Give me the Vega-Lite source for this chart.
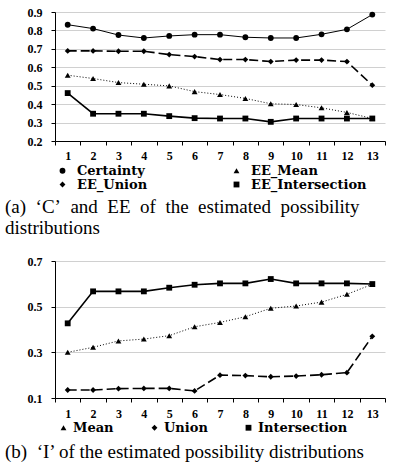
{
  "$schema": "https://vega.github.io/schema/vega-lite/v6.json",
  "padding": {"left": 5, "top": 6, "right": 5, "bottom": 0},
  "spacing": 17,
  "resolve": {"scale": {"shape": "independent", "y": "independent"}, "legend": {"shape": "independent"}},
  "config": {
    "font": "Liberation Serif",
    "view": {"stroke": null},
    "axis": {"labelFont": "Liberation Serif", "labelFontWeight": "bold", "labelColor": "black", "domainColor": "black", "tickColor": "black", "title": null},
    "legend": {"labelFont": "DejaVu Serif", "labelFontWeight": "bold", "labelColor": "black"}
  },
  "datasets": {
    "top": [
      {"s": "Certainty", "x": 1, "y": 0.831}, {"s": "Certainty", "x": 2, "y": 0.81}, {"s": "Certainty", "x": 3, "y": 0.775}, {"s": "Certainty", "x": 4, "y": 0.759}, {"s": "Certainty", "x": 5, "y": 0.77}, {"s": "Certainty", "x": 6, "y": 0.777}, {"s": "Certainty", "x": 7, "y": 0.777}, {"s": "Certainty", "x": 8, "y": 0.763}, {"s": "Certainty", "x": 9, "y": 0.759}, {"s": "Certainty", "x": 10, "y": 0.759}, {"s": "Certainty", "x": 11, "y": 0.779}, {"s": "Certainty", "x": 12, "y": 0.806}, {"s": "Certainty", "x": 13, "y": 0.886},
      {"s": "EE_Mean", "x": 1, "y": 0.557}, {"s": "EE_Mean", "x": 2, "y": 0.539}, {"s": "EE_Mean", "x": 3, "y": 0.517}, {"s": "EE_Mean", "x": 4, "y": 0.508}, {"s": "EE_Mean", "x": 5, "y": 0.499}, {"s": "EE_Mean", "x": 6, "y": 0.468}, {"s": "EE_Mean", "x": 7, "y": 0.452}, {"s": "EE_Mean", "x": 8, "y": 0.431}, {"s": "EE_Mean", "x": 9, "y": 0.402}, {"s": "EE_Mean", "x": 10, "y": 0.398}, {"s": "EE_Mean", "x": 11, "y": 0.38}, {"s": "EE_Mean", "x": 12, "y": 0.355}, {"s": "EE_Mean", "x": 13, "y": 0.322},
      {"s": "EE_Union", "x": 1, "y": 0.689}, {"s": "EE_Union", "x": 2, "y": 0.689}, {"s": "EE_Union", "x": 3, "y": 0.687}, {"s": "EE_Union", "x": 4, "y": 0.687}, {"s": "EE_Union", "x": 5, "y": 0.669}, {"s": "EE_Union", "x": 6, "y": 0.658}, {"s": "EE_Union", "x": 7, "y": 0.642}, {"s": "EE_Union", "x": 8, "y": 0.642}, {"s": "EE_Union", "x": 9, "y": 0.631}, {"s": "EE_Union", "x": 10, "y": 0.639}, {"s": "EE_Union", "x": 11, "y": 0.639}, {"s": "EE_Union", "x": 12, "y": 0.631}, {"s": "EE_Union", "x": 13, "y": 0.503},
      {"s": "EE_Intersection", "x": 1, "y": 0.46}, {"s": "EE_Intersection", "x": 2, "y": 0.348}, {"s": "EE_Intersection", "x": 3, "y": 0.348}, {"s": "EE_Intersection", "x": 4, "y": 0.348}, {"s": "EE_Intersection", "x": 5, "y": 0.335}, {"s": "EE_Intersection", "x": 6, "y": 0.324}, {"s": "EE_Intersection", "x": 7, "y": 0.322}, {"s": "EE_Intersection", "x": 8, "y": 0.322}, {"s": "EE_Intersection", "x": 9, "y": 0.304}, {"s": "EE_Intersection", "x": 10, "y": 0.322}, {"s": "EE_Intersection", "x": 11, "y": 0.322}, {"s": "EE_Intersection", "x": 12, "y": 0.322}, {"s": "EE_Intersection", "x": 13, "y": 0.322}
    ],
    "bottom": [
      {"s": "Mean", "x": 1, "y": 0.3}, {"s": "Mean", "x": 2, "y": 0.322}, {"s": "Mean", "x": 3, "y": 0.35}, {"s": "Mean", "x": 4, "y": 0.358}, {"s": "Mean", "x": 5, "y": 0.373}, {"s": "Mean", "x": 6, "y": 0.412}, {"s": "Mean", "x": 7, "y": 0.431}, {"s": "Mean", "x": 8, "y": 0.456}, {"s": "Mean", "x": 9, "y": 0.493}, {"s": "Mean", "x": 10, "y": 0.503}, {"s": "Mean", "x": 11, "y": 0.52}, {"s": "Mean", "x": 12, "y": 0.554}, {"s": "Mean", "x": 13, "y": 0.598},
      {"s": "Union", "x": 1, "y": 0.135}, {"s": "Union", "x": 2, "y": 0.135}, {"s": "Union", "x": 3, "y": 0.141}, {"s": "Union", "x": 4, "y": 0.142}, {"s": "Union", "x": 5, "y": 0.142}, {"s": "Union", "x": 6, "y": 0.131}, {"s": "Union", "x": 7, "y": 0.2}, {"s": "Union", "x": 8, "y": 0.198}, {"s": "Union", "x": 9, "y": 0.193}, {"s": "Union", "x": 10, "y": 0.196}, {"s": "Union", "x": 11, "y": 0.202}, {"s": "Union", "x": 12, "y": 0.211}, {"s": "Union", "x": 13, "y": 0.37},
      {"s": "Intersection", "x": 1, "y": 0.427}, {"s": "Intersection", "x": 2, "y": 0.567}, {"s": "Intersection", "x": 3, "y": 0.567}, {"s": "Intersection", "x": 4, "y": 0.567}, {"s": "Intersection", "x": 5, "y": 0.583}, {"s": "Intersection", "x": 6, "y": 0.596}, {"s": "Intersection", "x": 7, "y": 0.602}, {"s": "Intersection", "x": 8, "y": 0.602}, {"s": "Intersection", "x": 9, "y": 0.621}, {"s": "Intersection", "x": 10, "y": 0.602}, {"s": "Intersection", "x": 11, "y": 0.602}, {"s": "Intersection", "x": 12, "y": 0.602}, {"s": "Intersection", "x": 13, "y": 0.599}
    ]
  },
  "vconcat": [
    {
      "width": 330, "height": 129,
      "data": {"name": "top"},
      "title": {"text": ["(a)\u00a0 ‘C’\u00a0 and\u00a0 EE\u00a0 of\u00a0 the\u00a0 estimated\u00a0 possibility", "distributions"], "orient": "bottom", "anchor": "start", "frame": "group", "dx": -50, "limit": 500, "font": "Liberation Serif", "fontSize": 19, "fontWeight": "normal", "lineHeight": 21, "offset": 6, "color": "black"},
      "encoding": {
        "x": {"field": "x", "type": "ordinal", "scale": {"type": "band", "paddingInner": 0, "paddingOuter": 0}, "axis": {"labelAngle": 0, "labelFontSize": 12, "tickBand": "extent", "tickSize": 4, "labelPadding": 5, "grid": false}},
        "y": {"field": "y", "type": "quantitative", "scale": {"domain": [0.2, 0.9], "nice": false}, "axis": {"values": [0.2, 0.3, 0.4, 0.5, 0.6, 0.7, 0.8, 0.9], "format": ".1f", "labelFontSize": 12, "tickSize": 4, "labelPadding": 9, "grid": true, "gridColor": "#d0d0d0"}}
      },
      "layer": [
        {"transform": [{"filter": "datum.s === 'Certainty'"}], "mark": {"type": "line", "color": "black", "strokeWidth": 1}, "encoding": {}},
        {"transform": [{"filter": "datum.s === 'EE_Mean'"}], "mark": {"type": "line", "color": "black", "strokeWidth": 1, "strokeDash": [1, 2]}, "encoding": {}},
        {"transform": [{"filter": "datum.s === 'EE_Union'"}], "mark": {"type": "line", "color": "black", "strokeWidth": 1.6, "strokeDash": [9, 4]}, "encoding": {}},
        {"transform": [{"filter": "datum.s === 'EE_Intersection'"}], "mark": {"type": "line", "color": "black", "strokeWidth": 1.6}, "encoding": {}},
        {"mark": {"type": "point", "filled": true, "color": "black", "opacity": 1, "size": 34},
         "encoding": {
           "shape": {"field": "s", "type": "nominal", "scale": {"domain": ["Certainty", "EE_Union", "EE_Mean", "EE_Intersection"], "range": ["circle", "diamond", "triangle-up", "square"]},
             "legend": {"title": null, "orient": "none", "legendX": 1, "legendY": 152, "columns": 2, "labelFontSize": 13, "symbolSize": 34, "symbolFillColor": "black", "symbolStrokeColor": "black", "rowPadding": -3, "columnPadding": 82, "labelOffset": 8}}
         }}
      ]
    },
    {
      "width": 330, "height": 137,
      "data": {"name": "bottom"},
      "title": {"text": "(b)\u00a0 ‘I’ of the estimated possibility distributions", "orient": "bottom", "anchor": "start", "frame": "group", "dx": -50, "limit": 500, "font": "Liberation Serif", "fontSize": 19, "fontWeight": "normal", "offset": 8, "color": "black"},
      "encoding": {
        "x": {"field": "x", "type": "ordinal", "scale": {"type": "band", "paddingInner": 0, "paddingOuter": 0}, "axis": {"labelAngle": 0, "labelFontSize": 12, "tickBand": "extent", "tickSize": 4, "labelPadding": 6, "grid": false}},
        "y": {"field": "y", "type": "quantitative", "scale": {"domain": [0.1, 0.7], "nice": false}, "axis": {"values": [0.1, 0.3, 0.5, 0.7], "format": ".1f", "labelFontSize": 12, "tickSize": 4, "labelPadding": 9, "grid": true, "gridColor": "#d0d0d0"}}
      },
      "layer": [
        {"transform": [{"filter": "datum.s === 'Mean'"}], "mark": {"type": "line", "color": "black", "strokeWidth": 1, "strokeDash": [1, 2]}, "encoding": {}},
        {"transform": [{"filter": "datum.s === 'Union'"}], "mark": {"type": "line", "color": "black", "strokeWidth": 1.6, "strokeDash": [9, 4]}, "encoding": {}},
        {"transform": [{"filter": "datum.s === 'Intersection'"}], "mark": {"type": "line", "color": "black", "strokeWidth": 1.6}, "encoding": {}},
        {"mark": {"type": "point", "filled": true, "color": "black", "opacity": 1, "size": 34},
         "encoding": {
           "shape": {"field": "s", "type": "nominal", "scale": {"domain": ["Mean", "Union", "Intersection"], "range": ["triangle-up", "diamond", "square"]},
             "legend": {"title": null, "orient": "none", "legendX": 2, "legendY": 160, "direction": "horizontal", "labelFontSize": 13, "symbolSize": 34, "symbolFillColor": "black", "symbolStrokeColor": "black", "columnPadding": 34, "labelOffset": 3}}
         }}
      ]
    }
  ]
}
